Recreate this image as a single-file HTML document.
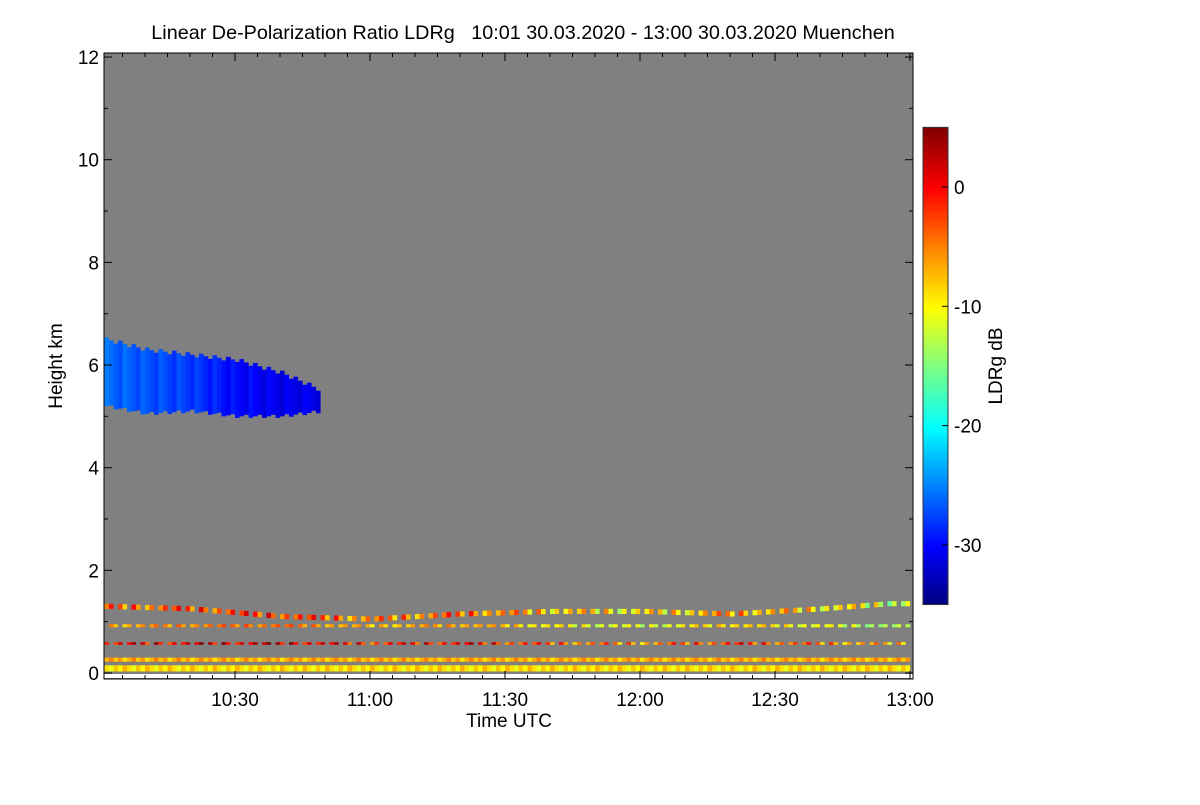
<!DOCTYPE html>
<html><head><meta charset="utf-8"><style>
body{margin:0;background:#fff;width:1200px;height:800px;overflow:hidden}
text{font-family:"Liberation Sans",sans-serif;fill:#000;white-space:pre}
</style></head><body>
<svg id="c" width="1200" height="800">
<defs><linearGradient id="cm" x1="0" y1="1" x2="0" y2="0">
<stop offset="0" stop-color="#00007f"/><stop offset="0.12" stop-color="#0000ff"/><stop offset="0.37" stop-color="#00ffff"/>
<stop offset="0.5" stop-color="#7fff7f"/><stop offset="0.62" stop-color="#ffff00"/><stop offset="0.75" stop-color="#ff8000"/>
<stop offset="0.87" stop-color="#ff0000"/><stop offset="1" stop-color="#7f0000"/></linearGradient></defs>
</svg>
<script>
const times=[1,10,20,30,40,49];           // minutes after 10:00 (cloud columns)
const cloudTop=[6.5,6.3,6.2,6.1,5.85,5.5];
const cloudBot=[5.2,5.05,5.1,5.0,5.0,5.1];
const cloudVal=[-26,-27,-28,-30,-31,-31];
const blTimes=[1,20,40,60,80,100,120,140,160,175];
const blTop=[1.35,1.3,1.15,1.1,1.2,1.25,1.25,1.2,1.3,1.4];
const blVal=[-5,-3,-2,-6,-4,-8,-10,-6,-9,-12];
const xTicks=["10:30","11:00","11:30","12:00","12:30","13:00"];
const xTickMin=[30,60,90,120,150,180];
const yTicks=[0,2,4,6,8,10,12];
const cbTicks=[0,-10,-20,-30];
const svg=document.getElementById('c');const NS='http://www.w3.org/2000/svg';
const X=m=>104.5+(m-1)*4.5, Y=h=>673-h*51.33, CB=v=>187-v*11.93;
function col(v){const t=Math.max(0,Math.min(1,(v+35)/40));
 const s=[[0,0,0,127],[.12,0,0,255],[.37,0,255,255],[.5,127,255,127],[.62,255,255,0],[.75,255,128,0],[.87,255,0,0],[1,127,0,0]];
 for(let i=1;i<s.length;i++)if(t<=s[i][0]){const a=s[i-1],b=s[i],f=(t-a[0])/(b[0]-a[0]);return `rgb(${[1,2,3].map(k=>Math.round(a[k]+f*(b[k]-a[k]))).join(',')})`;}return 'rgb(127,0,0)';}
function el(tag,a,txt){const e=document.createElementNS(NS,tag);for(const k in a)e.setAttribute(k,a[k]);if(txt!==undefined)e.textContent=txt;svg.appendChild(e);return e;}
function interp(xs,ys,x){for(let i=1;i<xs.length;i++)if(x<=xs[i]){const f=(x-xs[i-1])/(xs[i]-xs[i-1]);return ys[i-1]+f*(ys[i]-ys[i-1]);}return ys[ys.length-1];}
const bg=el('rect',{x:104,y:53,width:809,height:626,fill:'#808080'});

el('rect',{x:104,y:674,width:809,height:4,fill:'#fff'});
// cloud
for(let m=times[0];m<times[times.length-1];m+=1){
 const tp=interp(times,cloudTop,m)+((m*5)%3-1)*0.04,bt=interp(times,cloudBot,m)+((m*7)%3-1)*0.03,v=interp(times,cloudVal,m)+((m*3)%4-1.5)*0.5;
 const r=el('rect',{x:X(m),y:Y(tp),width:4.6,height:Y(bt)-Y(tp),fill:col(v)});
 }
// boundary layer bands
for(let m=1;m<180;m+=1){
 const tp=interp(blTimes,blTop,m),v=interp(blTimes,blVal,m),k=(m*7)%5;
 const layers=[[tp,0.1,v+(k-2)*2],[0.95,0.06,v-4+k],[0.6,0.05,v+k*2],[0.3,0.08,-9+k],[0.15,0.12,-7-k]];
 layers.forEach((L,i)=>{if(i<3&&(m*7+i*5)%3===0)return;
  const r=el('rect',{x:X(m),y:Y(L[0]),width:4.6,height:L[1]*51.33,fill:col(L[2])});
  });}
el('rect',{x:104,y:53,width:809,height:626,fill:'none',stroke:'#000','stroke-width':1});
// axes
yTicks.forEach(v=>{const y=Y(v);el('line',{x1:104,x2:112,y1:y,y2:y,stroke:'#000'});el('line',{x1:905,x2:913,y1:y,y2:y,stroke:'#000'});
 const t=el('text',{x:99,y:y+7,'text-anchor':'end','font-size':19},v);
 if(v<12){const y2=Y(v+1);el('line',{x1:104,x2:108,y1:y2,y2:y2,stroke:'#000'});el('line',{x1:909,x2:913,y1:y2,y2:y2,stroke:'#000'});}});
for(let m=5;m<=180;m+=5){const x=X(m),big=m%30===0;el('line',{x1:x,x2:x,y1:679,y2:679-(big?8:4),stroke:'#000'});el('line',{x1:x,x2:x,y1:53,y2:53+(big?8:4),stroke:'#000'});}
xTicks.forEach((s,i)=>{const t=el('text',{x:X(xTickMin[i]),y:706,'text-anchor':'middle','font-size':19},s);});
let t=el('text',{x:509,y:727,'text-anchor':'middle','font-size':19},'Time UTC');
t=el('text',{x:0,y:0,'text-anchor':'middle','font-size':19,transform:'translate(62,366) rotate(-90)'},'Height km');
t=el('text',{x:523,y:39,'text-anchor':'middle','font-size':19.8,'xml:space':'preserve'},'Linear De-Polarization Ratio LDRg   10:01 30.03.2020 - 13:00 30.03.2020 Muenchen');
// colorbar
const cb=el('rect',{x:923,y:CB(5),width:25,height:CB(-35)-CB(5),fill:'url(#cm)',stroke:'#333'});
cbTicks.forEach(v=>{const y=CB(v);el('line',{x1:942,x2:948,y1:y,y2:y,stroke:'#000'});
 const tt=el('text',{x:954,y:y+7,'font-size':19},v);});
t=el('text',{x:0,y:0,'text-anchor':'middle','font-size':19,transform:'translate(1002,366) rotate(-90)'},'LDRg dB');
</script></body></html>
